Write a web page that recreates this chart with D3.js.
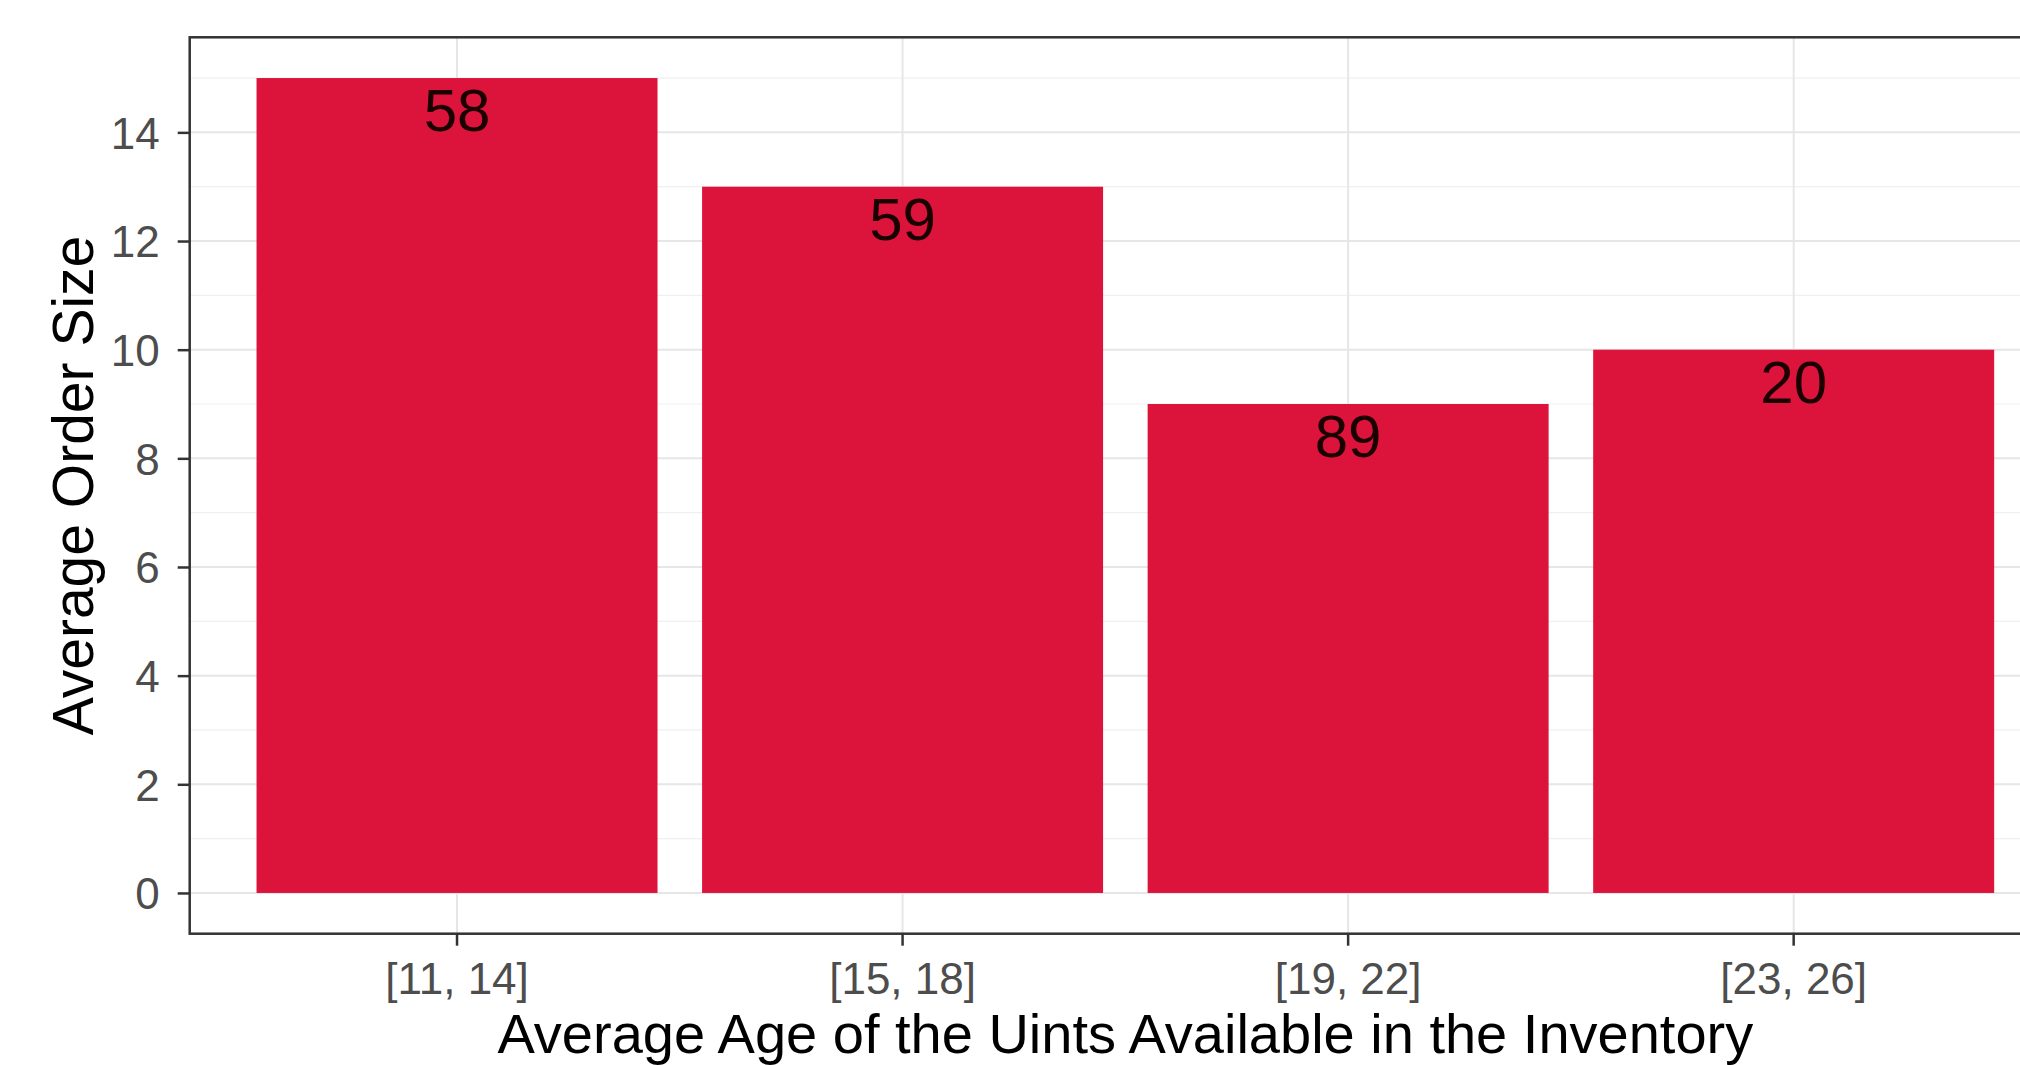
<!DOCTYPE html>
<html>
<head>
<meta charset="utf-8">
<script src="https://cdn.jsdelivr.net/npm/d3@7"></script>
<style>
  html, body { margin: 0; padding: 0; background: #fff; overflow: hidden; }
  svg { display: block; }
  text { font-family: "Liberation Sans", Arial, Helvetica, sans-serif; }
</style>
</head>
<body>
<svg id="chart" width="2020" height="1065"></svg>
<script>
// Age bins (x categories)
const categories = ["[11, 14]", "[15, 18]", "[19, 22]", "[23, 26]"];
// Average order size per bin (bar heights)
const avgOrderSize = [15, 13, 9, 10];
// Count labels printed inside each bar
const countLabels = ["58", "59", "89", "20"];
// Y axis major ticks
const yTicks = [0, 2, 4, 6, 8, 10, 12, 14];
const yMinorTicks = [1, 3, 5, 7, 9, 11, 13, 15];

const xTitle = "Average Age of the Uints Available in the Inventory";
const yTitle = "Average Order Size";

const W = 2020, H = 1065;
const panel = { left: 189.7, right: 2061, top: 37.3, bottom: 933.7 };

const svg = d3.select("#chart");

const x = d3.scaleBand()
  .domain(categories)
  .range([panel.left, panel.right])
  .paddingInner(0.1)
  .paddingOuter(0.15);

const y = d3.scaleLinear()
  .domain([-0.75, 15.75])
  .range([panel.bottom, panel.top]);

// panel background
svg.append("rect")
  .attr("x", panel.left).attr("y", panel.top)
  .attr("width", panel.right - panel.left)
  .attr("height", panel.bottom - panel.top)
  .attr("fill", "#ffffff");

const grid = svg.append("g");
// minor horizontal grid
grid.selectAll("line.minor").data(yMinorTicks).join("line")
  .attr("class", "minor")
  .attr("x1", panel.left).attr("x2", panel.right)
  .attr("y1", d => y(d)).attr("y2", d => y(d))
  .attr("stroke", "#f0f0f0").attr("stroke-width", 1.2);
// major horizontal grid
grid.selectAll("line.major").data(yTicks).join("line")
  .attr("class", "major")
  .attr("x1", panel.left).attr("x2", panel.right)
  .attr("y1", d => y(d)).attr("y2", d => y(d))
  .attr("stroke", "#e6e6e6").attr("stroke-width", 2);
// vertical grid at category centres
grid.selectAll("line.vx").data(categories).join("line")
  .attr("class", "vx")
  .attr("x1", d => x(d) + x.bandwidth() / 2).attr("x2", d => x(d) + x.bandwidth() / 2)
  .attr("y1", panel.top).attr("y2", panel.bottom)
  .attr("stroke", "#e6e6e6").attr("stroke-width", 2);

// bars
svg.append("g").selectAll("rect").data(categories).join("rect")
  .attr("x", d => x(d))
  .attr("width", x.bandwidth())
  .attr("y", (d, i) => y(avgOrderSize[i]))
  .attr("height", (d, i) => y(0) - y(avgOrderSize[i]))
  .attr("fill", "#DC143C");

// count labels inside the bars, just under the top edge
svg.append("g").selectAll("text").data(categories).join("text")
  .attr("x", d => x(d) + x.bandwidth() / 2)
  .attr("y", (d, i) => y(avgOrderSize[i]) + 53)
  .attr("text-anchor", "middle")
  .attr("font-size", 60)
  .attr("fill", "#1a0000")
  .text((d, i) => countLabels[i]);

// panel border
svg.append("rect")
  .attr("x", panel.left).attr("y", panel.top)
  .attr("width", panel.right - panel.left)
  .attr("height", panel.bottom - panel.top)
  .attr("fill", "none")
  .attr("stroke", "#333333").attr("stroke-width", 2.5);

// y axis
const yAxis = svg.append("g")
  .attr("transform", `translate(${panel.left},0)`)
  .call(d3.axisLeft(y).tickValues(yTicks).tickSize(12).tickPadding(18));
yAxis.select(".domain").remove();
yAxis.selectAll(".tick line").attr("stroke", "#333333").attr("stroke-width", 2.5);
yAxis.selectAll(".tick text")
  .attr("font-size", 44)
  .attr("fill", "#4d4d4d")
  .attr("dy", "0.36em")
  .style("font-family", "'Liberation Sans', Arial, sans-serif");

// x axis
const xAxis = svg.append("g")
  .attr("transform", `translate(0,${panel.bottom})`)
  .call(d3.axisBottom(x).tickSize(12).tickPadding(17));
xAxis.select(".domain").remove();
xAxis.selectAll(".tick line").attr("stroke", "#333333").attr("stroke-width", 2.5);
xAxis.selectAll(".tick text")
  .attr("font-size", 44)
  .attr("fill", "#4d4d4d")
  .attr("dy", "0.71em")
  .style("font-family", "'Liberation Sans', Arial, sans-serif");

// axis titles
svg.append("text")
  .attr("x", (panel.left + panel.right) / 2)
  .attr("y", 1053)
  .attr("text-anchor", "middle")
  .attr("font-size", 56)
  .attr("fill", "#000")
  .text(xTitle);

svg.append("text")
  .attr("transform", `translate(93,${(panel.top + panel.bottom) / 2}) rotate(-90)`)
  .attr("text-anchor", "middle")
  .attr("font-size", 57)
  .attr("fill", "#000")
  .text(yTitle);
</script>
</body>
</html>
